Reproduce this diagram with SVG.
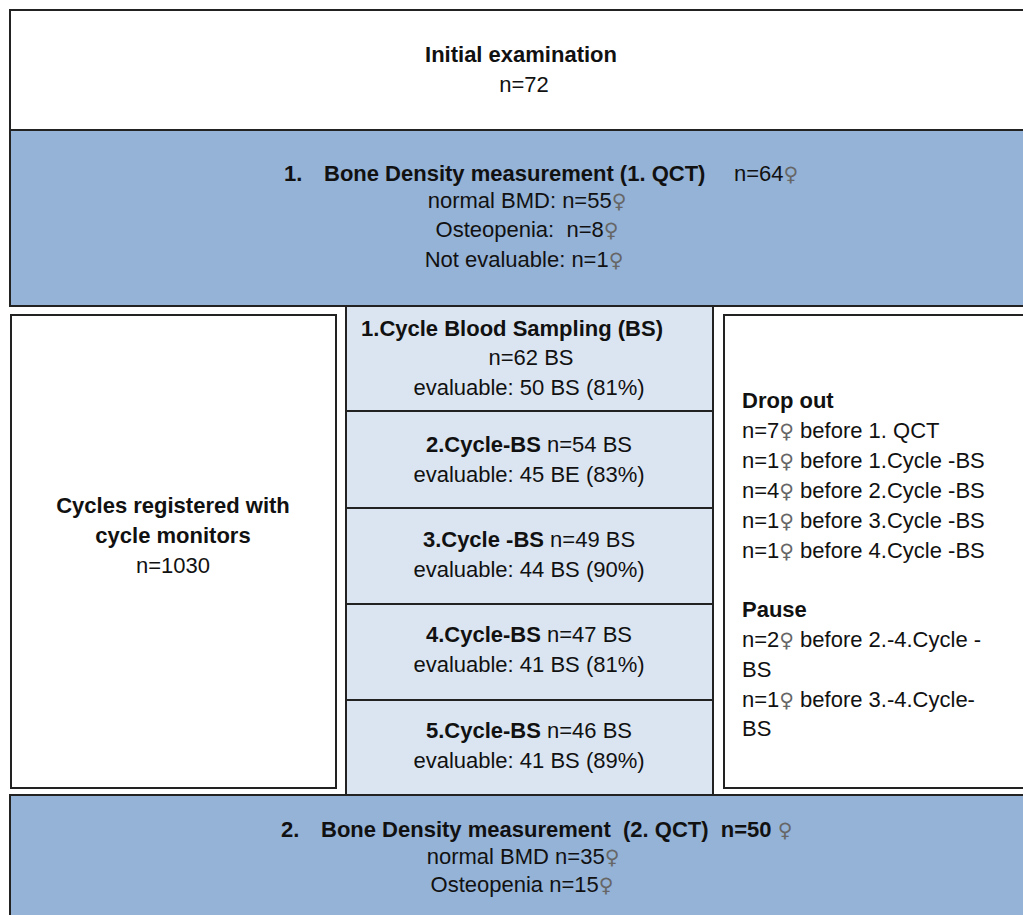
<svg xmlns="http://www.w3.org/2000/svg" width="1023" height="915" viewBox="0 0 1023 915">
<style>
text{font-family:"Liberation Sans",Arial,sans-serif;font-size:22px;fill:#111;white-space:pre}
.b{font-weight:bold}
.c{text-anchor:middle}
.f{font-family:"DejaVu Sans",sans-serif;font-weight:normal;font-size:20px;fill:#666}
.box{stroke:#222;stroke-width:2}
.w{fill:#fff}
.blue{fill:#95b3d7}
.lb{fill:#dbe5f1}
</style>
<rect x="0" y="0" width="1023" height="915" fill="#fff"/>
<g id="initial">
<rect class="box w" x="10" y="10" width="1030" height="120"/>
<text class="b c" x="521" y="62">Initial examination</text>
<text class="c" x="524" y="92">n=72</text>
</g>
<g id="qct1">
<rect class="box blue" x="10" y="130" width="1030" height="176"/>
<text class="b" x="284" y="181">1.</text>
<text class="b" x="324" y="181">Bone Density measurement (1. QCT)</text>
<text x="734" y="181">n=64<tspan class="f">♀</tspan></text>
<text class="c" x="527" y="208">normal BMD: n=55<tspan class="f">♀</tspan></text>
<text class="c" x="527" y="237" xml:space="preserve">Osteopenia:  n=8<tspan class="f">♀</tspan></text>
<text class="c" x="524" y="267">Not evaluable: n=1<tspan class="f">♀</tspan></text>
</g>
<g id="cycles">
<rect class="box w" x="11" y="315" width="325" height="473"/>
<text class="b c" x="173" y="513">Cycles registered with</text>
<text class="b c" x="173" y="543">cycle monitors</text>
<text class="c" x="173" y="573">n=1030</text>
</g>
<g id="bs1">
<rect class="box lb" x="346" y="306" width="367" height="105"/>
<text class="b c" x="512" y="336">1.Cycle Blood Sampling (BS)</text>
<text class="c" x="531" y="365">n=62 BS</text>
<text class="c" x="529" y="395">evaluable: 50 BS (81%)</text>
</g>
<g id="bs2">
<rect class="box lb" x="346" y="411" width="367" height="97"/>
<text class="c" x="529" y="452"><tspan class="b">2.Cycle-BS</tspan> n=54 BS</text>
<text class="c" x="529" y="482">evaluable: 45 BE (83%)</text>
</g>
<g id="bs3">
<rect class="box lb" x="346" y="508" width="367" height="96"/>
<text class="c" x="529" y="547"><tspan class="b">3.Cycle -BS</tspan> n=49 BS</text>
<text class="c" x="529" y="577">evaluable: 44 BS (90%)</text>
</g>
<g id="bs4">
<rect class="box lb" x="346" y="604" width="367" height="96"/>
<text class="c" x="529" y="642"><tspan class="b">4.Cycle-BS</tspan> n=47 BS</text>
<text class="c" x="529" y="672">evaluable: 41 BS (81%)</text>
</g>
<g id="bs5">
<rect class="box lb" x="346" y="700" width="367" height="95"/>
<text class="c" x="529" y="738"><tspan class="b">5.Cycle-BS</tspan> n=46 BS</text>
<text class="c" x="529" y="768">evaluable: 41 BS (89%)</text>
</g>
<g id="dropout">
<rect class="box w" x="724" y="315" width="310" height="473"/>
<text class="b" x="742" y="408">Drop out</text>
<text x="742" y="438">n=7<tspan class="f">♀</tspan> before 1. QCT</text>
<text x="742" y="468">n=1<tspan class="f">♀</tspan> before 1.Cycle -BS</text>
<text x="742" y="498">n=4<tspan class="f">♀</tspan> before 2.Cycle -BS</text>
<text x="742" y="528">n=1<tspan class="f">♀</tspan> before 3.Cycle -BS</text>
<text x="742" y="558">n=1<tspan class="f">♀</tspan> before 4.Cycle -BS</text>
<text class="b" x="742" y="617">Pause</text>
<text x="742" y="647">n=2<tspan class="f">♀</tspan> before 2.-4.Cycle -</text>
<text x="742" y="677">BS</text>
<text x="742" y="707">n=1<tspan class="f">♀</tspan> before 3.-4.Cycle-</text>
<text x="742" y="736">BS</text>
</g>
<g id="qct2">
<rect class="box blue" x="10" y="795" width="1030" height="130"/>
<text class="b" x="281" y="837">2.</text>
<text class="b" x="321" y="837" xml:space="preserve">Bone Density measurement  (2. QCT)  n=50 <tspan class="f">♀</tspan></text>
<text class="c" x="523" y="864">normal BMD n=35<tspan class="f">♀</tspan></text>
<text class="c" x="522" y="892">Osteopenia n=15<tspan class="f">♀</tspan></text>
</g>
<g id="connectors"/>
</svg>
